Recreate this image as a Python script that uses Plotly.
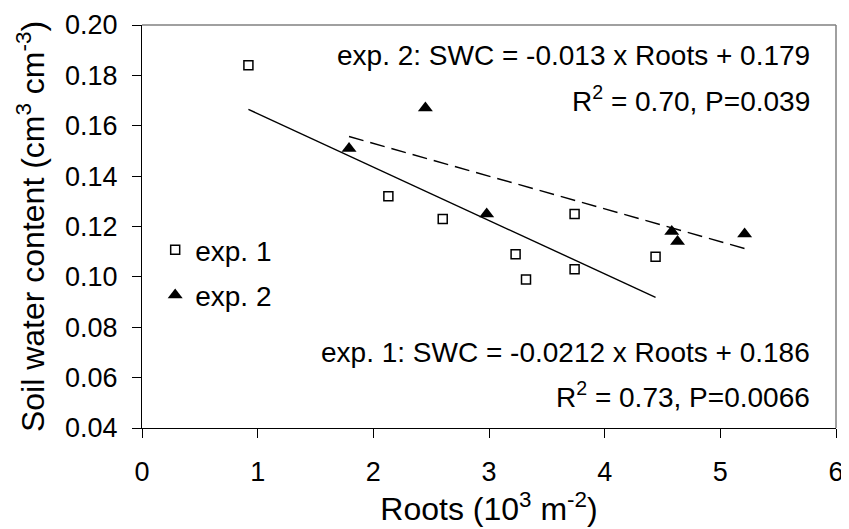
import plotly.graph_objects as go

# Data
exp1_roots = [0.92, 2.13, 2.60, 3.23, 3.32, 3.74, 3.74, 4.44]
exp1_swc = [0.184, 0.132, 0.123, 0.109, 0.099, 0.125, 0.103, 0.108]
exp2_roots = [1.79, 2.45, 2.98, 4.58, 4.63, 5.21]
exp2_swc = [0.151, 0.167, 0.125, 0.118, 0.114, 0.117]

# Regression coefficients shown in the chart
exp1_slope, exp1_intercept = -0.0212, 0.186
exp2_slope, exp2_intercept = -0.013, 0.179

x_ticks = [0, 1, 2, 3, 4, 5, 6]
y_ticks = [0.04, 0.06, 0.08, 0.10, 0.12, 0.14, 0.16, 0.18, 0.20]

FONT = "Liberation Sans, Arial, sans-serif"

fit1_x = [min(exp1_roots), max(exp1_roots)]
fit1_y = [exp1_slope * v + exp1_intercept for v in fit1_x]
fit2_x = [min(exp2_roots), max(exp2_roots)]
fit2_y = [exp2_slope * v + exp2_intercept for v in fit2_x]

fig = go.Figure()
fig.add_trace(go.Scatter(x=fit1_x, y=fit1_y, mode="lines",
                         line=dict(color="black", width=1.4),
                         showlegend=False, hoverinfo="skip"))
fig.add_trace(go.Scatter(x=fit2_x, y=fit2_y, mode="lines",
                         line=dict(color="black", width=1.4, dash="15px,7px"),
                         showlegend=False, hoverinfo="skip"))
fig.add_trace(go.Scatter(x=exp1_roots, y=exp1_swc, mode="markers", name="exp. 1",
                         legendgroup="a",
                         marker=dict(symbol="square-open", size=9, color="black",
                                     line=dict(width=1.5, color="black"))))
fig.add_trace(go.Scatter(x=exp2_roots, y=exp2_swc, mode="markers", name="exp. 2",
                         legendgroup="b",
                         marker=dict(symbol="triangle-up", size=13, color="black")))

ann_font = dict(family=FONT, size=28, color="black")
anns = [
    dict(x=5.79, y=0.188, text="exp. 2: SWC = -0.013 x Roots + 0.179"),
    dict(x=5.79, y=0.1708, text="R<sup>2</sup> = 0.70, P=0.039"),
    dict(x=5.79, y=0.0700, text="exp. 1: SWC = -0.0212 x Roots + 0.186"),
    dict(x=5.79, y=0.0530, text="R<sup>2</sup> = 0.73, P=0.0066"),
]
for a in anns:
    fig.add_annotation(xref="x", yref="y", xanchor="right", yanchor="middle",
                       showarrow=False, font=ann_font, **a)

# grey top and right frame
fig.add_shape(type="line", xref="paper", yref="paper", x0=0, x1=1, y0=1, y1=1,
              line=dict(color="#808080", width=1.5))
fig.add_shape(type="line", xref="paper", yref="paper", x0=1, x1=1, y0=0, y1=1,
              line=dict(color="#808080", width=1.5))

# the page body has an 8px margin, so the figure is sized/margined to compensate
fig.update_layout(
    width=841, height=521,
    margin=dict(l=134, r=13, t=17, b=101),
    paper_bgcolor="white", plot_bgcolor="white",
    font=dict(family=FONT, color="black"),
    legend=dict(x=0.019, y=0.386, xanchor="left", yanchor="middle",
                font=dict(family=FONT, size=28), tracegroupgap=6,
                bgcolor="rgba(0,0,0,0)"),
)
fig.update_xaxes(range=[0, 6], tickvals=x_ticks, ticks="outside", ticklen=9,
                 tickwidth=1, tickcolor="black", showline=True, linecolor="black",
                 linewidth=1.3, showgrid=False, zeroline=False, automargin=False,
                 tickfont=dict(family=FONT, size=27),
                 ticklabelstandoff=10,
                 title=dict(text="Roots (10<sup>3</sup> m<sup>-2</sup>)",
                            font=dict(family=FONT, size=32), standoff=5))
fig.update_yaxes(range=[0.04, 0.20], tickvals=y_ticks, tickformat=".2f",
                 ticks="outside", ticklen=9, tickwidth=1, tickcolor="black",
                 showline=True, linecolor="black", linewidth=1.3,
                 showgrid=False, zeroline=False, automargin=False,
                 tickfont=dict(family=FONT, size=27),
                 ticklabelstandoff=9,
                 title=dict(text="Soil water content (cm<sup>3</sup> cm<sup>-3</sup>)",
                            font=dict(family=FONT, size=32), standoff=10))

fig.write_html("out.html")
